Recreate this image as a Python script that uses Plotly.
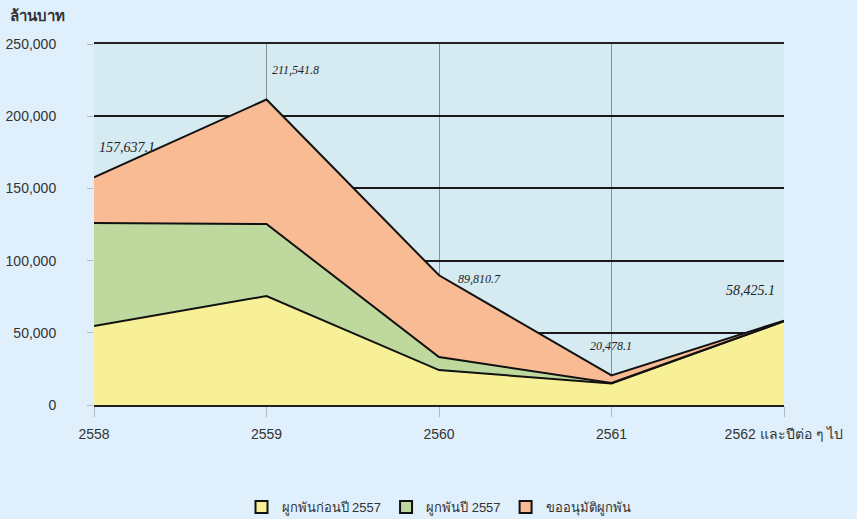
import plotly.graph_objects as go

categories = ["2558", "2559", "2560", "2561", "2562 และปีต่อ ๆ ไป"]
series_names = ["ผูกพันก่อนปี 2557", "ผูกพันปี 2557", "ขออนุมัติผูกพัน"]
before_2557 = [54700, 75500, 24200, 14900, 58000]
in_2557 = [71300, 49800, 9000, 300, 0]
totals = [157637.1, 211541.8, 89810.7, 20478.1, 58425.1]
approve = [round(t - a - b, 1) for t, a, b in zip(totals, before_2557, in_2557)]
y_ticks = [0, 50000, 100000, 150000, 200000, 250000]

colors = ["#f8f096", "#bed89d", "#f9bb93"]

fig = go.Figure()
for name, vals, col in zip(series_names, [before_2557, in_2557, approve], colors):
    fig.add_trace(go.Scatter(
        x=categories, y=vals, name=name, stackgroup="one", mode="lines",
        line=dict(color="#111111", width=2), fillcolor=col,
        hoverinfo="skip", showlegend=False,
    ))
# legend entries (square swatches)
for name, col in zip(series_names, colors):
    fig.add_trace(go.Scatter(
        x=[None], y=[None], name=name, mode="markers",
        marker=dict(symbol="square", size=12, color=col, line=dict(color="#111111", width=2)),
        showlegend=True,
    ))

label_style = [
    (33, 30, 14), (29, 30, 12), (40, -4, 12), (-1, 29, 12), (-34, 30, 14)
]
for i, (tot, (dx, dy, fs)) in enumerate(zip(totals, label_style)):
    fig.add_annotation(
        x=i, y=tot, xref="x", yref="y", text=f"<i>{tot:,.1f}</i>",
        showarrow=False, xshift=dx, yshift=dy,
        font=dict(family="Liberation Serif, Times New Roman, serif", size=fs, color="#222222"),
    )

fig.add_annotation(
    x=-86 / 690, y=1 + (44 - 15) / 361, xref="paper", yref="paper",
    text="<b>ล้านบาท</b>", showarrow=False, xanchor="left", yanchor="middle",
    font=dict(size=15, color="#333333"),
)

fig.update_layout(
    width=857, height=519,
    margin=dict(l=94, r=73, t=44, b=114, autoexpand=False),
    paper_bgcolor="#dff0fc",
    plot_bgcolor="#d5eaf1",
    font=dict(family="Liberation Sans, Arial, Noto Sans, sans-serif", size=14, color="#333333"),
    showlegend=True,
    legend=dict(
        orientation="h", x=0.5, xanchor="center", y=-(507 - 405) / 361, yanchor="middle",
        font=dict(size=13, color="#333333"), bgcolor="rgba(0,0,0,0)",
        traceorder="normal",
    ),
)
fig.update_xaxes(
    type="category", range=[0, 4], showgrid=True, gridcolor="#8a8f94", gridwidth=1,
    showline=True, linecolor="#222222", linewidth=2, mirror=True,
    ticks="outside", ticklen=10, tickcolor="#b0b8c0", tickwidth=1,
    ticklabelstandoff=5,
    tickfont=dict(size=14, color="#333333"), fixedrange=True,
)
fig.update_yaxes(
    range=[0, 250000], tickvals=y_ticks, tickformat=",d",
    showgrid=True, gridcolor="#1a1a1a", gridwidth=1.5, zeroline=False,
    ticks="outside", ticklen=6, tickcolor="#b0b8c0",
    ticklabelstandoff=28,
    tickfont=dict(size=14, color="#333333"), fixedrange=True,
)

fig.write_html(
    "out.html",
    config={"displayModeBar": False},
    post_script="document.body.style.margin='0';document.body.style.background='#dff0fc';",
)
